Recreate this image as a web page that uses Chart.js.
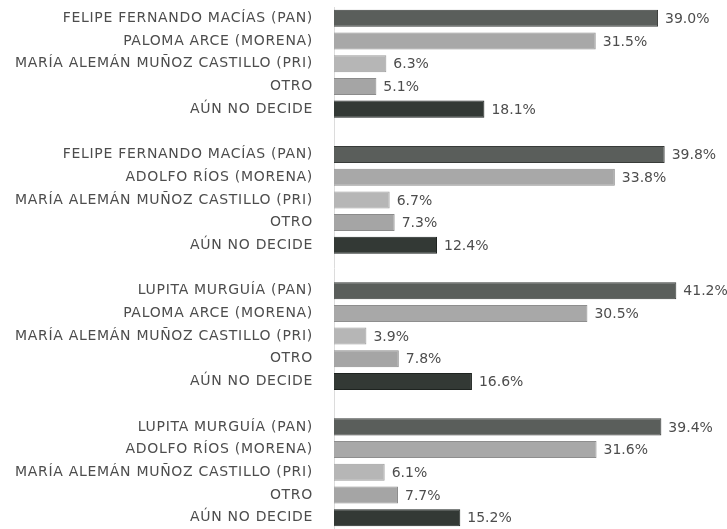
<!DOCTYPE html>
<html lang="es">
<head>
<meta charset="utf-8">
<script src="https://cdn.jsdelivr.net/npm/chart.js@4.4.1/dist/chart.umd.min.js"></script>
<style>
  html, body { margin: 0; padding: 0; background: #fff; }
  #wrap { width: 727px; height: 529px; }
</style>
</head>
<body>
<div id="wrap"><canvas id="encuesta" width="727" height="529"></canvas></div>
<script>
/* Careos de intención de voto - cuatro escenarios, cinco opciones cada uno */

const careo1Nombres = ['FELIPE FERNANDO MACÍAS (PAN)', 'PALOMA ARCE (MORENA)', 'MARÍA ALEMÁN MUÑOZ CASTILLO (PRI)', 'OTRO', 'AÚN NO DECIDE'];
const careo1Valores = [39.0, 31.5, 6.3, 5.1, 18.1];

const careo2Nombres = ['FELIPE FERNANDO MACÍAS (PAN)', 'ADOLFO RÍOS (MORENA)', 'MARÍA ALEMÁN MUÑOZ CASTILLO (PRI)', 'OTRO', 'AÚN NO DECIDE'];
const careo2Valores = [39.8, 33.8, 6.7, 7.3, 12.4];

const careo3Nombres = ['LUPITA MURGUÍA (PAN)', 'PALOMA ARCE (MORENA)', 'MARÍA ALEMÁN MUÑOZ CASTILLO (PRI)', 'OTRO', 'AÚN NO DECIDE'];
const careo3Valores = [41.2, 30.5, 3.9, 7.8, 16.6];

const careo4Nombres = ['LUPITA MURGUÍA (PAN)', 'ADOLFO RÍOS (MORENA)', 'MARÍA ALEMÁN MUÑOZ CASTILLO (PRI)', 'OTRO', 'AÚN NO DECIDE'];
const careo4Valores = [39.4, 31.6, 6.1, 7.7, 15.2];

// el mismo orden de opciones en cada careo
const tipoOpcion = ['pan', 'morena', 'pri', 'otro', 'nodecide'];

const colorRelleno = { pan: '#5a5e5b', morena: '#a8a8a8', pri: '#b6b6b6', otro: '#a5a5a5', nodecide: '#333935' };
const colorBorde   = { pan: '#383b39', morena: '#8e8e8e', pri: '#9c9c9c', otro: '#8b8b8b', nodecide: '#1e2320' };

const FUENTE = 'DejaVu Sans';
const COLOR_TEXTO = '#4d4d4d';

// Une los careos en un solo eje, con una fila vacía entre cada uno
const careos = [
    [careo1Nombres, careo1Valores],
    [careo2Nombres, careo2Valores],
    [careo3Nombres, careo3Valores],
    [careo4Nombres, careo4Valores]
];

const etiquetas = [];
const valores = [];
const rellenos = [];
const bordes = [];

careos.forEach(([nombres, vals], idx) => {
    if (idx > 0) {
        etiquetas.push('');
        valores.push(null);
        rellenos.push('transparent');
        bordes.push('transparent');
    }
    nombres.forEach((n, i) => {
        etiquetas.push(n);
        valores.push(vals[i]);
        rellenos.push(colorRelleno[tipoOpcion[i]]);
        bordes.push(colorBorde[tipoOpcion[i]]);
    });
});

// Nombres un poco más espaciados, como en el original
const espaciadoNombres = {
    id: 'espaciadoNombres',
    beforeDraw(chart) { chart.ctx.letterSpacing = '0.7px'; },
    beforeDatasetsDraw(chart) { chart.ctx.letterSpacing = '0px'; }
};

// Porcentaje a la derecha de cada barra
const etiquetasValor = {
    id: 'etiquetasValor',
    afterDatasetsDraw(chart) {
        const ctx = chart.ctx;
        const meta = chart.getDatasetMeta(0);
        ctx.save();
        ctx.font = `14px "${FUENTE}"`;
        ctx.fillStyle = COLOR_TEXTO;
        ctx.textBaseline = 'middle';
        ctx.textAlign = 'left';
        meta.data.forEach((bar, i) => {
            const v = valores[i];
            if (v === null) return;
            ctx.fillText(v.toFixed(1) + '%', bar.x + 7, bar.y + 1);
        });
        ctx.restore();
    }
};

new Chart(document.getElementById('encuesta').getContext('2d'), {
    type: 'bar',
    data: {
        labels: etiquetas,
        datasets: [{
            data: valores,
            backgroundColor: rellenos,
            borderColor: bordes,
            borderWidth: 1,
            barPercentage: 0.75,
            categoryPercentage: 1
        }]
    },
    options: {
        indexAxis: 'y',
        responsive: false,
        animation: false,
        layout: { padding: { top: 7, bottom: 0, left: 0, right: 0 } },
        plugins: {
            legend: { display: false },
            tooltip: { enabled: false }
        },
        scales: {
            x: { display: false, min: 0, max: 47.3 },
            y: {
                grid: { display: false, drawTicks: false },
                border: { display: true, color: '#dcdcdc', width: 1 },
                ticks: {
                    autoSkip: false,
                    padding: 21,
                    color: COLOR_TEXTO,
                    font: { family: FUENTE, size: 14 }
                },
                afterFit(scale) {
                    scale.width = 334;
                    // el padding de las marcas no debe quitar alto al área
                    scale.paddingTop = 0;
                    scale.paddingBottom = 0;
                }
            }
        }
    },
    plugins: [espaciadoNombres, etiquetasValor]
});
</script>
</body>
</html>
